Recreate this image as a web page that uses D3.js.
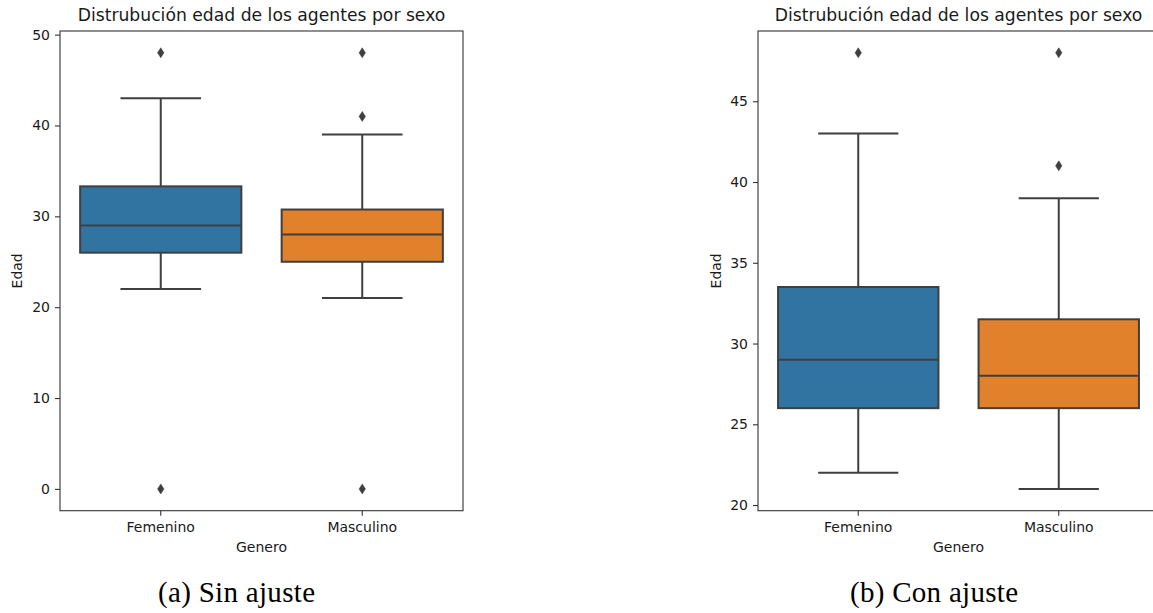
<!DOCTYPE html>
<html>
<head>
<meta charset="utf-8">
<script src="https://cdn.jsdelivr.net/npm/d3@7"></script>
<style>
  html, body { margin: 0; padding: 0; background: #fff; }
  svg { display: block; }
</style>
</head>
<body>
<svg id="chart" width="1153" height="613"></svg>
<script>
// ---- data ----
const categories = ["Femenino", "Masculino"];
const boxColors = ["#3274a1", "#e1812c"];

// Panel (a) Sin ajuste
const rawLow     = [22, 21];
const rawQ1      = [26, 25];
const rawMedian  = [29, 28];
const rawQ3      = [33.3, 30.75];
const rawHigh    = [43, 39];
const rawOutliers = [[48, 0], [48, 41, 0]];
const rawTicks   = [0, 10, 20, 30, 40, 50];

// Panel (b) Con ajuste
const adjLow     = [22, 21];
const adjQ1      = [26, 26];
const adjMedian  = [29, 28];
const adjQ3      = [33.5, 31.5];
const adjHigh    = [43, 39];
const adjOutliers = [[48], [48, 41]];
const adjTicks   = [20, 25, 30, 35, 40, 45];

const titleText = "Distrubución edad de los agentes por sexo";
const xLabel = "Genero";
const yLabel = "Edad";
const captions = ["(a) Sin ajuste", "(b) Con ajuste"];

// ---- drawing ----
const svg = d3.select("#chart");
const FONT = "DejaVu Sans, sans-serif";
const LINE = "#3f3f3f";
const TEXT = "#1a1a1a";

function panel(cfg) {
  const { x0, x1, y0, y1, low, q1, med, q3, high, outliers, ticks, caption, capX } = cfg;
  const vals = [].concat(low, high, ...outliers);
  const mn = d3.min(vals), mx = d3.max(vals);
  const pad = (mx - mn) * 0.05;
  const y = d3.scaleLinear().domain([mn - pad, mx + pad]).range([y1, y0]);
  const x = d3.scaleBand().domain(categories).range([x0, x1]).padding(0);
  const bw = x.bandwidth() * 0.8;
  const g = svg.append("g");

  const stats = categories.map((c, i) => ({
    c, i, low: low[i], q1: q1[i], med: med[i], q3: q3[i], high: high[i], out: outliers[i]
  }));

  stats.forEach(s => {
    const cx = x(s.c) + x.bandwidth() / 2;
    g.append("line").attr("x1", cx).attr("x2", cx).attr("y1", y(s.q3)).attr("y2", y(s.high))
      .attr("stroke", LINE).attr("stroke-width", 2);
    g.append("line").attr("x1", cx).attr("x2", cx).attr("y1", y(s.q1)).attr("y2", y(s.low))
      .attr("stroke", LINE).attr("stroke-width", 2);
    [s.low, s.high].forEach(v => {
      g.append("line").attr("x1", cx - bw / 4).attr("x2", cx + bw / 4).attr("y1", y(v)).attr("y2", y(v))
        .attr("stroke", LINE).attr("stroke-width", 2);
    });
    g.append("rect").attr("x", cx - bw / 2).attr("width", bw)
      .attr("y", y(s.q3)).attr("height", y(s.q1) - y(s.q3))
      .attr("fill", boxColors[s.i]).attr("stroke", LINE).attr("stroke-width", 2);
    g.append("line").attr("x1", cx - bw / 2).attr("x2", cx + bw / 2).attr("y1", y(s.med)).attr("y2", y(s.med))
      .attr("stroke", LINE).attr("stroke-width", 2);
    s.out.forEach(v => {
      g.append("path").attr("d", "M0,-5L3.2,0L0,5L-3.2,0Z")
        .attr("transform", `translate(${cx},${y(v)})`)
        .attr("fill", LINE).attr("stroke", LINE).attr("stroke-width", 0.5);
    });
  });

  const ya = g.append("g").attr("transform", `translate(${x0},0)`)
    .call(d3.axisLeft(y).tickValues(ticks).tickSize(5).tickPadding(5).tickFormat(d3.format("d")));
  const xa = g.append("g").attr("transform", `translate(0,${y1})`)
    .call(d3.axisBottom(x).tickSize(5).tickPadding(6));
  [ya, xa].forEach(a => {
    a.select(".domain").remove();
    a.selectAll(".tick line").attr("stroke", "#333").attr("stroke-width", 1.1);
    a.selectAll(".tick text").attr("fill", TEXT).style("font-family", FONT).style("font-size", "14px");
  });

  g.append("rect").attr("x", x0).attr("y", y0).attr("width", x1 - x0).attr("height", y1 - y0)
    .attr("fill", "none").attr("stroke", "#333").attr("stroke-width", 1.1);

  g.append("text").attr("x", (x0 + x1) / 2).attr("y", 21).attr("text-anchor", "middle")
    .attr("fill", TEXT).style("font-family", FONT).style("font-size", "17.2px").text(titleText);
  g.append("text").attr("x", (x0 + x1) / 2).attr("y", 552).attr("text-anchor", "middle")
    .attr("fill", TEXT).style("font-family", FONT).style("font-size", "14px").text(xLabel);
  g.append("text").attr("transform", `translate(${cfg.yLabX},${(y0 + y1) / 2}) rotate(-90)`)
    .attr("text-anchor", "middle").attr("fill", TEXT)
    .style("font-family", FONT).style("font-size", "14px").text(yLabel);
  g.append("text").attr("x", capX).attr("y", 602).attr("text-anchor", "middle")
    .attr("fill", "#000").style("font-family", "Liberation Serif, serif").style("font-size", "29px")
    .attr("textLength", cfg.capW).attr("lengthAdjust", "spacing")
    .text(caption);
}

panel({ x0: 60, x1: 463, y0: 31, y1: 510.7, low: rawLow, q1: rawQ1, med: rawMedian, q3: rawQ3,
  high: rawHigh, outliers: rawOutliers, ticks: rawTicks, caption: captions[0], capX: 236.5, capW: 157, yLabX: 22 });
panel({ x0: 758, x1: 1159, y0: 31, y1: 510.7, low: adjLow, q1: adjQ1, med: adjMedian, q3: adjQ3,
  high: adjHigh, outliers: adjOutliers, ticks: adjTicks, caption: captions[1], capX: 934, capW: 168, yLabX: 720.5 });
</script>
</body>
</html>
